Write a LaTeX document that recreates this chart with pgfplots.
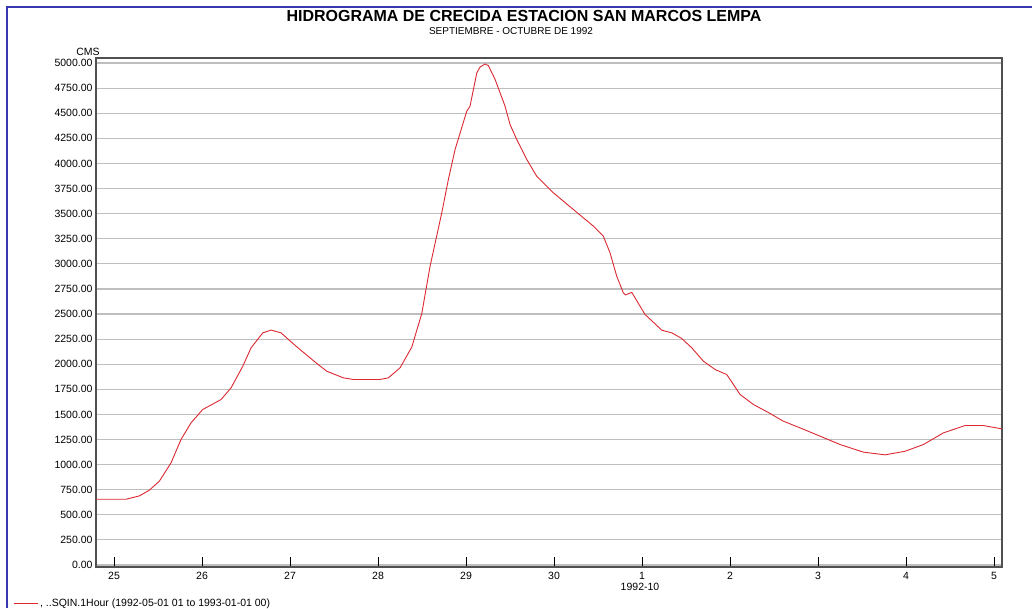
\documentclass[border=0pt]{standalone}
\usepackage{fontspec}
\setmainfont{Liberation Sans}
\usepackage{pgfplots}
\pgfplotsset{compat=1.18}
\definecolor{curve}{RGB}{220,40,50}
\definecolor{gridc}{RGB}{190,190,190}
\definecolor{frameblue}{RGB}{55,55,175}
\definecolor{axisc}{RGB}{80,80,80}
\begin{document}
\begin{tikzpicture}[x=1pt,y=1pt]
\useasboundingbox (0,0) rectangle (1032,608);
\fill[white] (0,0) rectangle (1032,608);
\draw[frameblue, line width=2pt] (7,0) -- (7,601) -- (1032,601);
\begin{axis}[
  at={(96pt,41pt)}, anchor=south west,
  scale only axis, width=906pt, height=509pt,
  xmin=-0.205, xmax=10.09, ymin=-20, ymax=5050,
  xtick={0,1,2,3,4,5,6,7,8,9,10},
  xticklabels={25,26,27,28,29,30,1,2,3,4,5},
  ytick={0,250,...,5000},
  tick align=inside, tick pos=left,
  major tick length=10pt,
  xtick style={black, line width=0.9pt},
  ytick style={draw=none},
  ymajorgrids, grid style={gridc, line width=1.2pt},
  axis line style={axisc, line width=1.2pt},
  /pgf/number format/assume math mode=true,
  ticklabel style={font=\fontsize{10.5}{12}\selectfont},
  yticklabel style={/pgf/number format/.cd, fixed, fixed zerofill, precision=2, 1000 sep={}},
  xticklabel style={yshift=-2pt},
  legend style={at={(axis description cs:-0.0916,-0.0707)}, anchor=west, draw=none, fill=none,
    font=\fontsize{10.5}{12}\selectfont, inner xsep=0pt, inner ysep=0pt},
  legend cell align=left,
  legend image code/.code={\draw[#1] (0pt,0pt) -- (24pt,0pt);},
]
\addplot[curve, line width=0.9pt] coordinates {
(-0.205,655) (0.136,655) (0.288,688) (0.401,745) (0.515,835) (0.648,1018)
(0.761,1250) (0.875,1416) (1.008,1549) (1.216,1648) (1.330,1765) (1.463,1980)
(1.557,2163) (1.690,2312) (1.784,2340) (1.898,2312) (2.068,2179) (2.295,2014)
(2.417,1930) (2.606,1864) (2.719,1848) (3.023,1848) (3.117,1864) (3.25,1964)
(3.383,2170) (3.497,2505) (3.591,2976) (3.724,3508) (3.799,3840) (3.875,4138)
(4.008,4520) (4.045,4570) (4.122,4902) (4.159,4960) (4.216,4990) (4.253,4975)
(4.33,4836) (4.443,4570) (4.5,4387) (4.576,4238) (4.69,4039) (4.803,3872)
(4.992,3707) (5.219,3541) (5.447,3375) (5.56,3275) (5.636,3109) (5.712,2877)
(5.787,2711) (5.81,2690) (5.883,2715) (6.034,2495) (6.224,2339) (6.338,2312)
(6.451,2256) (6.565,2163) (6.697,2030) (6.83,1947) (6.962,1897) (7.114,1698)
(7.265,1599) (7.455,1509) (7.606,1432) (7.795,1366) (8.023,1283) (8.25,1200)
(8.515,1124) (8.761,1097) (8.989,1133) (9.197,1200) (9.424,1316) (9.67,1389)
(9.878,1389) (10.088,1356)
};
\addlegendentry{, ..SQIN.1Hour (1992-05-01 01 to 1993-01-01 00)}
\end{axis}
\node[font=\bfseries\fontsize{16}{18}\selectfont] at (524,592) {HIDROGRAMA DE CRECIDA ESTACION SAN MARCOS LEMPA};
\node[font=\fontsize{10}{12}\selectfont] at (511,577) {SEPTIEMBRE - OCTUBRE DE 1992};
\node[font=\fontsize{10.5}{12}\selectfont] at (88,556) {CMS};
\node[font=\fontsize{10.5}{12}\selectfont] at (640,21) {1992-10};
\end{tikzpicture}
\end{document}
